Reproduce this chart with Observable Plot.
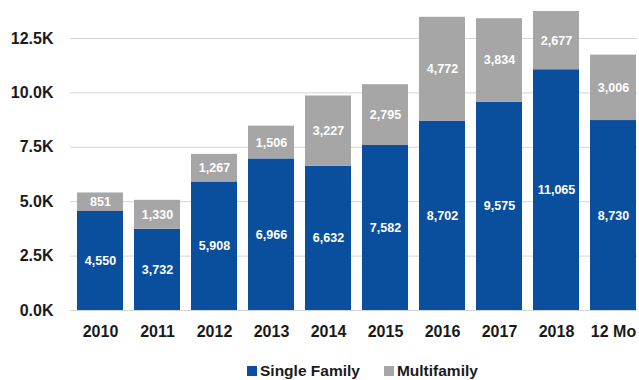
<!DOCTYPE html>
<html>
<head>
<meta charset="utf-8">
<script src="https://cdn.jsdelivr.net/npm/d3@7"></script>
<script src="https://cdn.jsdelivr.net/npm/@observablehq/plot@0.6"></script>
<style>
  html, body { margin: 0; padding: 0; background: #fff; overflow: hidden; }
  #chart { width: 639px; }
  .legend { display: flex; align-items: center; height: 30px; margin-top: 6px; margin-left: 247px;
    font-family: "Liberation Sans", Arial, sans-serif; font-weight: bold; font-size: 15.5px; color: #1a1a1a; }
  .sw { width: 10px; height: 10px; display: inline-block; margin-right: 3px; }
  .item { display: flex; align-items: center; margin-right: 24px; }
</style>
</head>
<body>
<div id="chart"></div>
<script>
const years = ["2010","2011","2012","2013","2014","2015","2016","2017","2018","12 Mo"];
const singleFamily = [4550, 3732, 5908, 6966, 6632, 7582, 8702, 9575, 11065, 8730];
const multifamily = [851, 1330, 1267, 1506, 3227, 2795, 4772, 3834, 2677, 3006];
const seriesNames = ["Single Family", "Multifamily"];
const seriesColors = ["#0a4f9d", "#a6a6a6"];
const yTicks = [0, 2500, 5000, 7500, 10000, 12500];

const rows = [];
years.forEach((y, i) => {
  rows.push({year: y, series: seriesNames[0], value: singleFamily[i]});
  rows.push({year: y, series: seriesNames[1], value: multifamily[i]});
});

const fmt = d3.format(",");
const plot = Plot.plot({
  width: 639,
  height: 350,
  marginLeft: 75,
  marginRight: 2,
  marginTop: 38,
  marginBottom: 40,
  style: {fontFamily: "'Liberation Sans', Arial, sans-serif", background: "#fff"},
  x: {domain: years, paddingInner: 0.2, paddingOuter: 0, label: null},
  y: {domain: [0, 12500], label: null},
  color: {domain: seriesNames, range: seriesColors},
  marks: [
    Plot.gridY(yTicks, {stroke: "#d4d4d4", strokeOpacity: 1, strokeWidth: 1}),
    Plot.axisY(yTicks, {tickSize: 5, tickPadding: 17, stroke: "#d4d4d4", tickFormat: d => (d/1000).toFixed(1) + "K",
      fontSize: 16, fontWeight: "bold", fill: "#1a1a1a", label: null}),
    Plot.axisX({tickSize: 0, tickPadding: 15, fontSize: 16, fontWeight: "bold", fill: "#1a1a1a", label: null}),
    Plot.barY(rows, {x: "year", y: "value", fill: "series", order: seriesNames}),
    Plot.text(rows, Plot.stackY({x: "year", y: "value", z: "series", order: seriesNames,
      text: d => fmt(d.value), fill: "white", fontSize: 12.5, fontWeight: "bold"}))
  ]
});
document.getElementById("chart").appendChild(plot);

const legend = document.createElement("div");
legend.className = "legend";
seriesNames.forEach((n, i) => {
  const it = document.createElement("div");
  it.className = "item";
  const sw = document.createElement("span");
  sw.className = "sw";
  sw.style.background = seriesColors[i];
  it.appendChild(sw);
  it.appendChild(document.createTextNode(n));
  legend.appendChild(it);
});
document.getElementById("chart").appendChild(legend);
</script>
</body>
</html>
